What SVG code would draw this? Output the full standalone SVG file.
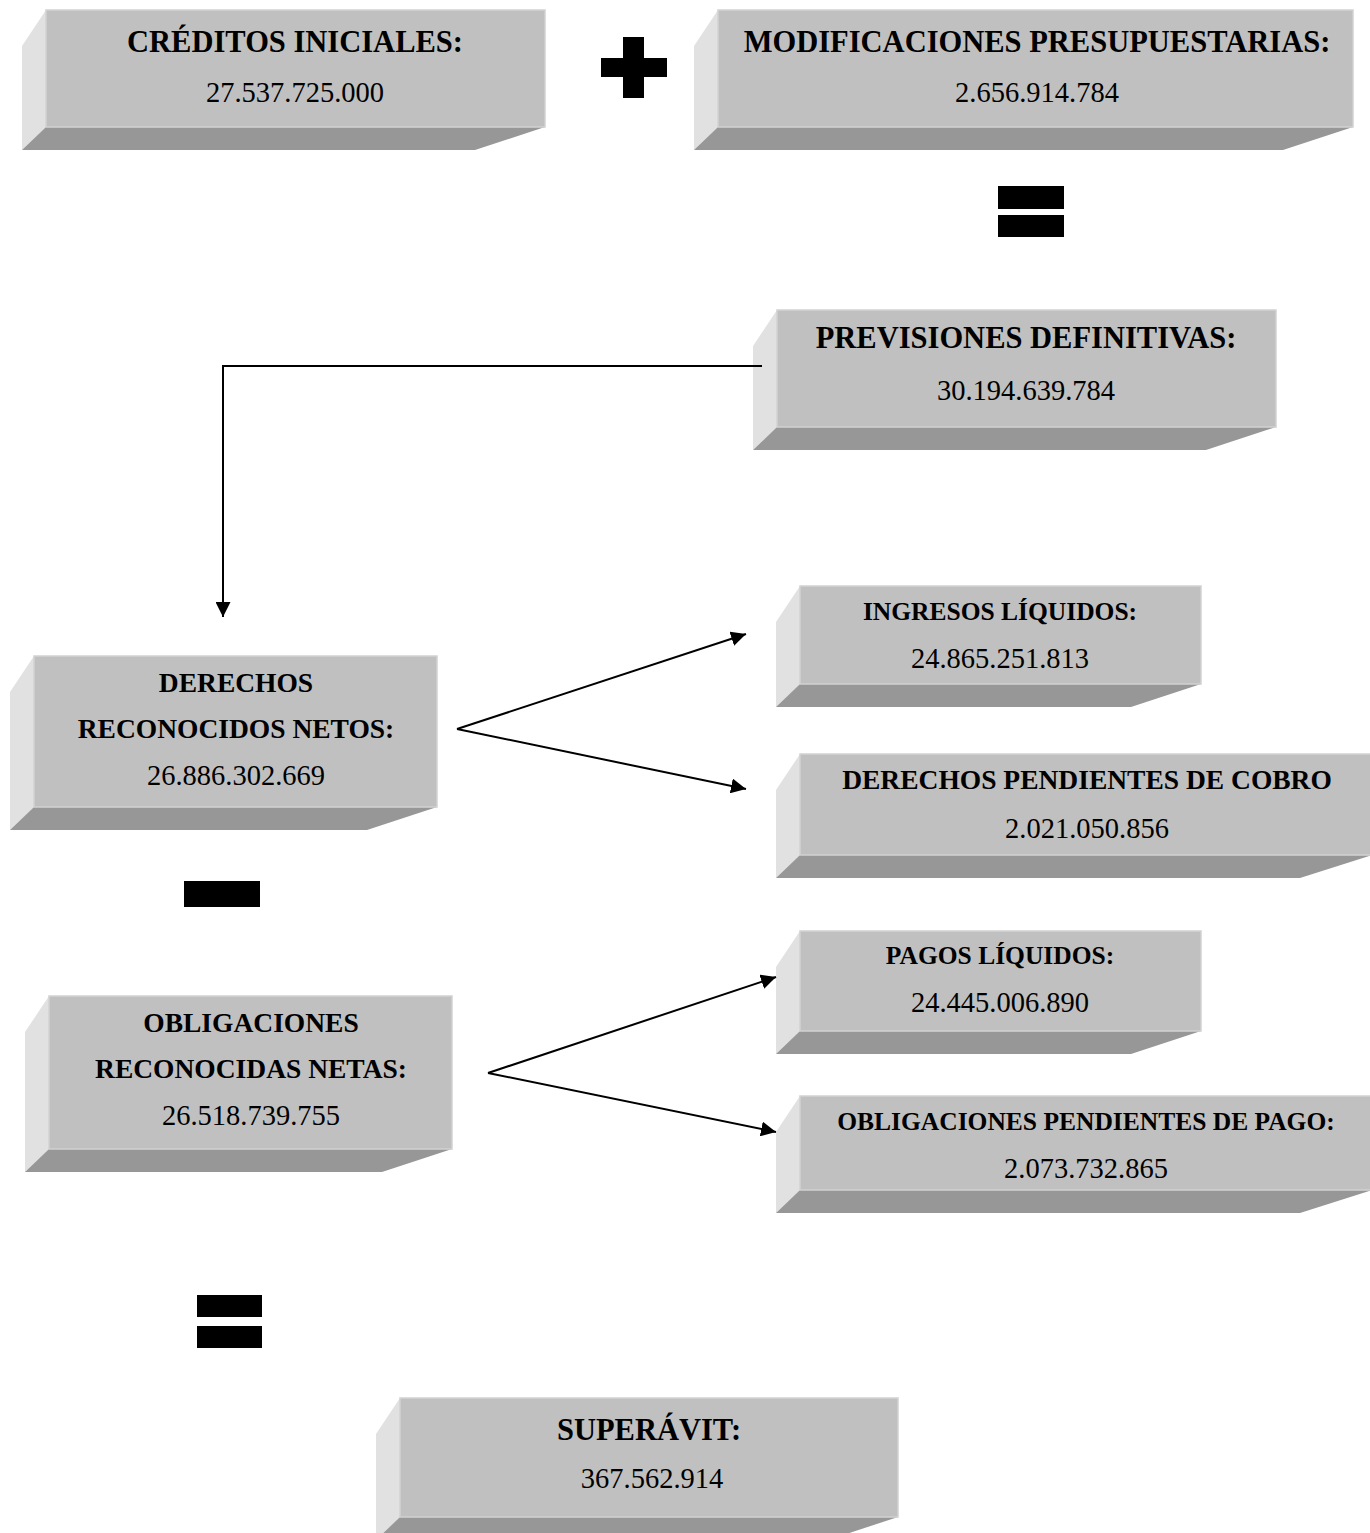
<svg xmlns="http://www.w3.org/2000/svg" width="1370" height="1533" viewBox="0 0 1370 1533">
<defs>
<style>
.front{fill:#c0c0c0;stroke:#d2d2d2;stroke-width:1.5}
.side{fill:#e1e1e1}
.bottom{fill:#979797}
.t{font-family:"Liberation Serif","Times New Roman",serif;font-weight:bold;font-size:30.5px;fill:#000;text-anchor:middle}
.ts{font-family:"Liberation Serif","Times New Roman",serif;font-weight:bold;font-size:25.5px;fill:#000;text-anchor:middle}
.tm{font-family:"Liberation Serif","Times New Roman",serif;font-weight:bold;font-size:27.5px;fill:#000;text-anchor:middle}
.n{font-family:"Liberation Serif","Times New Roman",serif;font-size:28.5px;fill:#000;text-anchor:middle}
.line{fill:none;stroke:#000;stroke-width:2}
.sym{fill:#000}
</style>
<marker id="arr" viewBox="0 0 15 15" refX="15" refY="7.5" markerWidth="15" markerHeight="15" markerUnits="userSpaceOnUse" orient="auto">
<path d="M0,0 L15,7.5 L0,15 Z" fill="#000"/>
</marker>
</defs>
<rect width="1370" height="1533" fill="#fff"/>

<g id="creditos-iniciales">
<polygon class="side" points="46,10 22,46 22,150 46,127"/>
<polygon class="bottom" points="46,127 22,150 475,150 545,127"/>
<rect class="front" x="46" y="10" width="499" height="117"/>
<text class="t" x="295" y="52">CRÉDITOS INICIALES:</text>
<text class="n" x="295" y="102">27.537.725.000</text>
</g>

<g id="modificaciones">
<polygon class="side" points="718,10 694,46 694,150 718,127"/>
<polygon class="bottom" points="718,127 694,150 1283,150 1353,127"/>
<rect class="front" x="718" y="10" width="635" height="117"/>
<text class="t" x="1037" y="52">MODIFICACIONES PRESUPUESTARIAS:</text>
<text class="n" x="1037" y="102">2.656.914.784</text>
</g>

<g id="previsiones">
<polygon class="side" points="777,310 753,346 753,450 777,427"/>
<polygon class="bottom" points="777,427 753,450 1206,450 1276,427"/>
<rect class="front" x="777" y="310" width="499" height="117"/>
<text class="t" x="1026" y="348">PREVISIONES DEFINITIVAS:</text>
<text class="n" x="1026" y="400">30.194.639.784</text>
</g>

<g id="ingresos-liquidos">
<polygon class="side" points="800,586 776,622 776,707 800,684"/>
<polygon class="bottom" points="800,684 776,707 1131,707 1201,684"/>
<rect class="front" x="800" y="586" width="401" height="98"/>
<text class="ts" x="1000" y="620">INGRESOS LÍQUIDOS:</text>
<text class="n" x="1000" y="668">24.865.251.813</text>
</g>

<g id="derechos-pendientes">
<polygon class="side" points="800,754 776,790 776,878 800,855"/>
<polygon class="bottom" points="800,855 776,878 1300,878 1372,855"/>
<rect class="front" x="800" y="754" width="572" height="101"/>
<text class="tm" x="1087" y="789">DERECHOS PENDIENTES DE COBRO</text>
<text class="n" x="1087" y="838">2.021.050.856</text>
</g>

<g id="derechos-reconocidos">
<polygon class="side" points="34,656 10,692 10,830 34,807"/>
<polygon class="bottom" points="34,807 10,830 367,830 437,807"/>
<rect class="front" x="34" y="656" width="403" height="151"/>
<text class="tm" x="236" y="692">DERECHOS</text>
<text class="tm" x="236" y="738">RECONOCIDOS NETOS:</text>
<text class="n" x="236" y="785">26.886.302.669</text>
</g>

<g id="obligaciones-reconocidas">
<polygon class="side" points="49,996 25,1032 25,1172 49,1149"/>
<polygon class="bottom" points="49,1149 25,1172 382,1172 452,1149"/>
<rect class="front" x="49" y="996" width="403" height="153"/>
<text class="tm" x="251" y="1032">OBLIGACIONES</text>
<text class="tm" x="251" y="1078">RECONOCIDAS NETAS:</text>
<text class="n" x="251" y="1125">26.518.739.755</text>
</g>

<g id="pagos-liquidos">
<polygon class="side" points="800,931 776,967 776,1054 800,1031"/>
<polygon class="bottom" points="800,1031 776,1054 1131,1054 1201,1031"/>
<rect class="front" x="800" y="931" width="401" height="100"/>
<text class="ts" x="1000" y="964">PAGOS LÍQUIDOS:</text>
<text class="n" x="1000" y="1012">24.445.006.890</text>
</g>

<g id="obligaciones-pendientes">
<polygon class="side" points="800,1096 776,1132 776,1213 800,1190"/>
<polygon class="bottom" points="800,1190 776,1213 1300,1213 1372,1190"/>
<rect class="front" x="800" y="1096" width="572" height="94"/>
<text class="ts" x="1086" y="1130">OBLIGACIONES PENDIENTES DE PAGO:</text>
<text class="n" x="1086" y="1178">2.073.732.865</text>
</g>

<g id="superavit">
<polygon class="side" points="400,1398 376,1434 376,1540 400,1517"/>
<polygon class="bottom" points="400,1517 376,1540 828,1540 898,1517"/>
<rect class="front" x="400" y="1398" width="498" height="119"/>
<text class="t" x="649" y="1440">SUPERÁVIT:</text>
<text class="n" x="652" y="1488">367.562.914</text>
</g>

<g id="operators">
<path class="sym" d="M623,37 H644 V58 H667 V77 H644 V98 H623 V77 H601 V58 H623 Z"/>
<rect class="sym" x="998" y="186" width="66" height="23"/>
<rect class="sym" x="998" y="215" width="66" height="22"/>
<rect class="sym" x="184" y="881" width="76" height="26"/>
<rect class="sym" x="197" y="1295" width="65" height="22"/>
<rect class="sym" x="197" y="1326" width="65" height="22"/>
</g>

<g id="connectors">
<polyline class="line" points="762,366 223,366 223,617" marker-end="url(#arr)"/>
<line class="line" x1="457" y1="729" x2="746" y2="634" marker-end="url(#arr)"/>
<line class="line" x1="457" y1="729" x2="746" y2="789" marker-end="url(#arr)"/>
<line class="line" x1="488" y1="1073" x2="776" y2="977" marker-end="url(#arr)"/>
<line class="line" x1="488" y1="1073" x2="776" y2="1132" marker-end="url(#arr)"/>
</g>
</svg>
